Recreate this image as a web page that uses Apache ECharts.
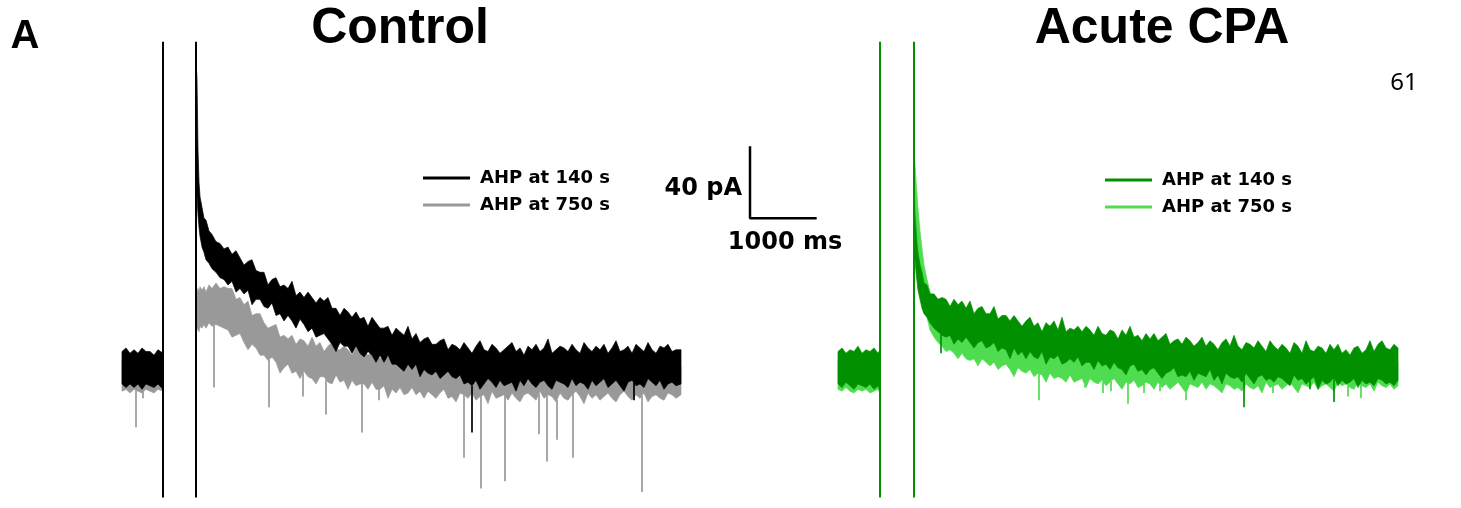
<!DOCTYPE html>
<html><head><meta charset="utf-8">
<script src="https://cdn.jsdelivr.net/npm/echarts@6/dist/echarts.min.js"></script>
<style>html,body{margin:0;padding:0;background:#fff}#c{width:1461px;height:508px}</style>
</head><body><div id="c"></div><script>
// ---------- DATA (time in ms, current in pA) ----------
const ctrlTime = [0,60,120,180,240,300,360,420,480,540,615,
  1110,1125,1140,1155,1170,1200,1230,1260,1305,1350,1410,1470,1530,
  1590,1650,1710,1770,1830,1890,1950,2010,2070,2130,
  2190,2250,2310,2370,2430,2490,2550,2610,2670,2730,
  2790,2850,2910,2970,3030,3090,3150,3210,3270,3330,
  3390,3450,3510,3570,3630,3690,3750,3810,3870,3930,
  3990,4050,4110,4170,4230,4290,4350,4410,4470,4530,
  4590,4650,4710,4770,4830,4890,4950,5010,5070,5130,
  5190,5250,5310,5370,5430,5490,5550,5610,5670,5730,
  5790,5850,5910,5970,6030,6090,6150,6210,6270,6330,
  6390,6450,6510,6570,6630,6690,6750,6810,6870,6930,
  6990,7050,7110,7170,7230,7290,7350,7410,7470,7530,
  7590,7650,7710,7770,7830,7890,7950,8010,8070,8130,
  8190,8250,8310,8385];
const ctrl140Top = [9,11,8,10,8,11,9,9,7,10,8,
  171,160,121,103,95,89,83,82,76,74,70,69,66,
  67,63,65,61,57,59,60,54,53,53,46,49,50,45,46,44,48,40,42,39,
  42,39,36,39,37,39,33,33,29,33,31,28,31,27,28,23,28,25,22,22,
  23,18,22,20,18,23,16,19,14,16,17,13,13,15,16,10,13,12,10,14,
  11,8,12,15,10,9,13,11,8,10,12,14,9,11,7,12,10,13,9,11,
  16,8,10,12,11,9,13,10,8,14,11,9,12,10,13,8,11,15,9,10,
  12,8,13,11,9,14,10,8,12,11,13,9,10,10];
const ctrl140Bot = [-9,-11,-9,-11,-9,-12,-9,-10,-11,-9,-12,
  121,96,85,78,73,67,64,60,58,55,53,50,49,
  46,48,42,44,41,43,35,38,38,34,33,36,29,30,26,29,26,22,27,24,
  20,22,17,18,19,16,13,9,14,12,12,8,12,8,6,9,7,3,7,3,
  7,2,2,0,-2,2,-1,2,-5,-1,-3,-4,-2,-6,-4,-2,-5,-6,-4,-9,
  -8,-10,-7,-12,-9,-6,-8,-11,-7,-10,-9,-8,-13,-7,-10,-6,-9,-11,-8,-7,
  -10,-12,-7,-8,-9,-11,-6,-10,-8,-9,-12,-7,-10,-8,-6,-11,-9,-7,-10,-13,
  -8,-7,-10,-9,-11,-6,-8,-10,-7,-12,-9,-8,-10,-9];
const ctrl750Top = [4,3,5,2,4,3,5,2,4,3,4,
  38,42,44,42,45,43,45,42,46,44,47,44,45,
  44,44,38,39,35,37,29,30,30,25,22,23,24,17,18,16,18,13,16,15,
  12,17,12,14,9,12,14,10,10,12,10,7,11,8,9,7,9,11,5,6,
  6,3,7,4,7,3,5,3,5,2,6,2,0,3,4,1,2,4,2,0,
  2,0,3,1,-1,2,0,2,1,-1,3,0,1,2,-1,1,3,0,2,1,
  -1,2,0,3,1,0,2,-1,1,2,0,3,1,-1,2,0,1,3,0,2,
  -1,1,2,0,3,1,-1,2,0,1,2,0,1,1];
const ctrl750Bot = [-13,-12,-14,-12,-13,-14,-12,-13,-14,-12,-13,
  20,21,22,20,23,22,24,22,25,23,24,23,22,
  21,17,18,19,14,10,13,11,7,7,4,6,3,-3,0,2,-3,-2,-6,-2,
  -5,-6,-9,-5,-5,-8,-9,-4,-8,-7,-12,-7,-10,-9,-9,-12,-8,-12,-12,-10,
  -17,-12,-14,-11,-15,-14,-11,-15,-13,-17,-13,-15,-17,-14,-12,-17,-16,-19,-14,-15,
  -17,-14,-18,-16,-15,-20,-13,-17,-16,-15,-18,-14,-17,-19,-15,-14,-16,-18,-13,-17,
  -15,-16,-19,-14,-17,-18,-15,-13,-16,-20,-14,-17,-15,-18,-16,-14,-17,-19,-15,-13,
  -16,-18,-15,-17,-14,-19,-16,-15,-17,-18,-14,-15,-17,-15];
// downward synaptic events: [time ms, peak pA]
const ctrl750Events = [[210,-33],[315,-17],[1380,-11],[2205,-22],[2715,-16],[3060,-26],[3600,-36],[3855,-18],
  [5130,-50],[5385,-67],[5745,-63],[6255,-37],[6375,-52],[6525,-40],[6765,-50],[7800,-69]];
const ctrl140Events = [[5250,-36],[7680,-18]];
const ctrlArtifacts = [615, 1110];

const cpaTime = [0,60,120,180,240,300,360,420,480,540,600,630,
  1140,1155,1170,1185,1200,1230,1260,1290,1335,1380,1440,1500,1560,
  1620,1680,1740,1800,1860,1920,1980,2040,2100,2160,
  2220,2280,2340,2400,2460,2520,2580,2640,2700,2760,
  2820,2880,2940,3000,3060,3120,3180,3240,3300,3360,
  3420,3480,3540,3600,3660,3720,3780,3840,3900,3960,
  4020,4080,4140,4200,4260,4320,4380,4440,4500,4560,
  4620,4680,4740,4800,4860,4920,4980,5040,5100,5160,
  5220,5280,5340,5400,5460,5520,5580,5640,5700,5760,
  5820,5880,5940,6000,6060,6120,6180,6240,6300,6360,
  6420,6480,6540,6600,6660,6720,6780,6840,6900,6960,
  7020,7080,7140,7200,7260,7320,7380,7440,7500,7560,
  7620,7680,7740,7800,7860,7920,7980,8040,8100,8160,
  8220,8280,8340,8400];
const cpa140Top = [9,11,8,10,9,12,8,10,9,11,8,10,
  99,85,77,69,64,57,53,47,46,41,41,38,39,
  38,34,38,35,37,33,37,30,33,34,30,30,34,27,29,29,26,29,26,23,
  26,28,23,25,20,25,23,26,21,28,20,22,21,23,20,23,21,18,23,19,
  18,21,20,16,21,18,23,17,18,15,19,16,19,15,17,19,13,15,16,13,
  17,15,12,14,17,12,15,13,10,14,16,12,18,12,10,14,13,11,15,12,
  9,15,12,10,13,11,8,14,12,8,15,10,9,12,11,8,13,10,13,8,
  10,7,11,12,8,10,15,9,13,15,11,10,13,11];
const cpa140Bot = [-9,-11,-8,-10,-12,-9,-10,-11,-9,-12,-10,-13,
  68,60,53,48,43,38,33,30,28,25,22,20,18,
  17,18,13,16,14,17,14,11,14,15,11,12,14,9,11,10,5,11,7,9,
  5,9,6,5,9,2,6,5,7,2,3,5,3,6,1,3,3,-1,4,1,
  2,-1,3,0,-1,-4,1,2,-2,-1,-4,-1,0,-3,-6,-3,-2,0,-5,-4,
  -5,-2,-7,-3,-4,-5,-1,-7,-4,-9,-3,-5,-6,-5,-8,-3,-6,-9,-5,-4,
  -7,-6,-8,-5,-6,-8,-10,-4,-7,-6,-9,-7,-5,-12,-7,-9,-8,-5,-10,-7,
  -9,-8,-6,-11,-7,-9,-8,-10,-6,-7,-9,-8,-10,-7];
const cpa750Top = [4,5,3,5,4,3,5,4,3,4,5,3,
  118,113,104,96,88,76,66,57,49,42,38,35,33,
  32,32,31,30,29,29,28,28,27,27,26,25,24,24,23,23,22,21,20,20,
  19,19,18,18,17,17,16,16,15,15,14,14,14,14,13,13,12,12,12,12,
  11,11,11,11,10,10,10,10,9,9,9,9,8,8,8,8,8,8,7,7,
  7,7,7,7,6,6,6,6,6,6,6,6,5,5,5,5,5,5,5,5,
  5,5,4,4,4,4,4,4,4,4,4,4,4,4,3,3,3,3,3,3,
  3,3,3,3,3,3,3,3,3,3,3,3,3,3];
const cpa750Bot = [-12,-13,-11,-13,-14,-12,-13,-12,-14,-13,-12,-14,
  93,79,68,61,56,48,41,35,28,21,17,14,12,
  9,10,8,5,8,5,4,5,1,5,3,1,3,-1,1,2,-1,-5,0,-2,
  -3,-1,-5,-3,-4,-8,-3,-6,-5,-6,-8,-4,-8,-7,-6,-11,-6,-8,-9,-7,
  -10,-8,-6,-9,-12,-8,-9,-7,-11,-10,-8,-9,-12,-8,-11,-9,-12,-10,-8,-11,
  -14,-9,-10,-11,-8,-12,-9,-10,-12,-14,-9,-10,-12,-11,-13,-9,-11,-12,-10,-14,
  -8,-11,-10,-9,-12,-10,-8,-11,-14,-9,-10,-11,-8,-12,-10,-9,-11,-13,-8,-10,
  -9,-11,-12,-8,-10,-11,-9,-13,-8,-10,-11,-9,-12,-10];
const cpa750Events = [[3015,-18],[3705,-11],[3975,-14],[4095,-13],[4350,-20],[4590,-14],[4830,-13],
  [5220,-18],[6525,-14],[7650,-16],[7845,-17]];
const cpa140Events = [[1545,8],[6090,-22],[7080,-12],[7440,-19]];
const cpaArtifacts = [630, 1140];

const artifactRange = [-72, 181];
const scaleBarTime = 1000;   // ms
const scaleBarCurrent = 40;  // pA
const legendLabels = ['AHP at 140 s', 'AHP at 750 s'];
const titles = ['Control', 'Acute CPA'];

// ---------- COLOURS ----------
const C_BLACK = '#000000', C_GRAY = '#999999', C_DKGREEN = '#009000', C_LTGREEN = '#50dc50';

// ---------- helpers ----------
function envAt(times, arr, t) {
  for (let i = 0; i < times.length - 1; i++) {
    if (t >= times[i] && t <= times[i + 1]) {
      const f = (t - times[i]) / (times[i + 1] - times[i]);
      return arr[i] + f * (arr[i + 1] - arr[i]);
    }
  }
  return arr[arr.length - 1];
}
function bandSeries(name, times, top, bot, color, ax) {
  const n = Math.min(times.length, top.length, bot.length);
  return {
    type: 'custom', name, xAxisIndex: ax, yAxisIndex: ax, silent: true,
    itemStyle: { color },
    data: times.slice(0, n).map((t, i) => [t, top[i], bot[i]]),
    encode: { x: 0, y: [1, 2] },
    renderItem(params, api) {
      if (params.dataIndex !== 0) return null;
      const segs = []; let seg = [];
      for (let i = 0; i < n; i++) {
        if (i > 0 && times[i] - times[i - 1] > 300) { segs.push(seg); seg = []; }
        seg.push(i);
      }
      segs.push(seg);
      return {
        type: 'group',
        children: segs.map(s => ({
          type: 'polygon',
          shape: { points: s.map(i => api.coord([times[i], top[i]]))
                    .concat(s.slice().reverse().map(i => api.coord([times[i], bot[i]]))) },
          style: { fill: color, stroke: color, lineWidth: 0.7 }
        }))
      };
    }
  };
}
function eventSeries(name, events, times, bot, color, ax) {
  return {
    type: 'custom', name, xAxisIndex: ax, yAxisIndex: ax, silent: true,
    itemStyle: { color },
    data: events.map(([t, v]) => [t, v, envAt(times, bot, t)]),
    encode: { x: 0, y: [1, 2] },
    renderItem(params, api) {
      const p1 = api.coord([api.value(0), api.value(2)]);
      const p2 = api.coord([api.value(0), api.value(1)]);
      return { type: 'line', shape: { x1: p1[0], y1: p1[1], x2: p2[0], y2: p2[1] },
               style: { stroke: color, lineWidth: 1.7 } };
    }
  };
}
function artifactSeries(name, ts, color, ax) {
  return {
    type: 'custom', name, xAxisIndex: ax, yAxisIndex: ax, silent: true,
    itemStyle: { color },
    data: ts.map(t => [t, artifactRange[0], artifactRange[1]]),
    encode: { x: 0, y: [1, 2] },
    renderItem(params, api) {
      const p1 = api.coord([api.value(0), api.value(1)]);
      const p2 = api.coord([api.value(0), api.value(2)]);
      return { type: 'line', shape: { x1: p1[0], y1: p1[1], x2: p2[0], y2: p2[1] },
               style: { stroke: color, lineWidth: 2 } };
    }
  };
}

// scale bar corner, in control-panel data coordinates
const sbT0 = 9420, sbI0 = 83;

const legendText = { fontFamily: 'DejaVu Sans', fontWeight: 'bold', fontSize: 18, color: '#000', padding: [0, 0, 0, 5] };

const option = {
  animation: false,
  backgroundColor: '#fff',
  grid: [
    { left: 122, top: 40, width: 720, height: 461 },
    { left: 838, top: 40, width: 560, height: 461 }
  ],
  xAxis: [
    { gridIndex: 0, type: 'value', min: 0, max: 10800, show: false },
    { gridIndex: 1, type: 'value', min: 0, max: 8400, show: false }
  ],
  yAxis: [
    { gridIndex: 0, type: 'value', min: -74, max: 182, show: false },
    { gridIndex: 1, type: 'value', min: -74, max: 182, show: false }
  ],
  legend: [
    { data: ['Control|' + legendLabels[0], 'Control|' + legendLabels[1]], left: 423, top: 169,
      orient: 'vertical', icon: 'rect', itemWidth: 47, itemHeight: 3, itemGap: 9, padding: 0,
      selectedMode: false, formatter: n => n.split('|')[1], textStyle: legendText },
    { data: ['CPA|' + legendLabels[0], 'CPA|' + legendLabels[1]], left: 1105, top: 171,
      orient: 'vertical', icon: 'rect', itemWidth: 47, itemHeight: 3, itemGap: 9, padding: 0,
      selectedMode: false, formatter: n => n.split('|')[1], textStyle: legendText }
  ],
  series: [
    bandSeries('Control|' + legendLabels[1], ctrlTime, ctrl750Top, ctrl750Bot, C_GRAY, 0),
    eventSeries('ctrl750ev', ctrl750Events, ctrlTime, ctrl750Bot, C_GRAY, 0),
    bandSeries('Control|' + legendLabels[0], ctrlTime, ctrl140Top, ctrl140Bot, C_BLACK, 0),
    eventSeries('ctrl140ev', ctrl140Events, ctrlTime, ctrl140Bot, C_BLACK, 0),
    artifactSeries('ctrlArt', ctrlArtifacts, C_BLACK, 0),

    bandSeries('CPA|' + legendLabels[1], cpaTime, cpa750Top, cpa750Bot, C_LTGREEN, 1),
    eventSeries('cpa750ev', cpa750Events, cpaTime, cpa750Bot, C_LTGREEN, 1),
    bandSeries('CPA|' + legendLabels[0], cpaTime, cpa140Top, cpa140Bot, C_DKGREEN, 1),
    eventSeries('cpa140ev', cpa140Events, cpaTime, cpa140Bot, C_DKGREEN, 1),
    artifactSeries('cpaArt', cpaArtifacts, C_DKGREEN, 1),

    { type: 'line', name: 'scalebar', xAxisIndex: 0, yAxisIndex: 0, silent: true, symbol: 'none',
      lineStyle: { color: '#000', width: 2.5 },
      data: [[sbT0, sbI0 + scaleBarCurrent], [sbT0, sbI0], [sbT0 + scaleBarTime, sbI0]] }
  ],
  graphic: [
    { type: 'text', x: 400, y: 29, style: { text: titles[0], fontFamily: 'Liberation Sans', fontWeight: 'bold', fontSize: 50, fill: '#000', align: 'center', verticalAlign: 'middle' } },
    { type: 'text', x: 1162, y: 29, style: { text: titles[1], fontFamily: 'Liberation Sans', fontWeight: 'bold', fontSize: 50, fill: '#000', align: 'center', verticalAlign: 'middle' } },
    { type: 'text', x: 25, y: 37, style: { text: 'A', fontFamily: 'Liberation Sans', fontWeight: 'bold', fontSize: 40, fill: '#000', align: 'center', verticalAlign: 'middle' } },
    { type: 'text', x: 1404, y: 83, style: { text: '61', fontFamily: 'Noto Sans', fontSize: 24, fill: '#000', align: 'center', verticalAlign: 'middle' } },
    { type: 'text', x: 742, y: 189, style: { text: scaleBarCurrent + ' pA', fontFamily: 'DejaVu Sans', fontWeight: 'bold', fontSize: 24, fill: '#000', align: 'right', verticalAlign: 'middle' } },
    { type: 'text', x: 785, y: 243, style: { text: scaleBarTime + ' ms', fontFamily: 'DejaVu Sans', fontWeight: 'bold', fontSize: 24, fill: '#000', align: 'center', verticalAlign: 'middle' } }
  ]
};
const chart = echarts.init(document.getElementById('c'), null, { renderer: 'canvas' });
chart.setOption(option);
</script></body></html>
